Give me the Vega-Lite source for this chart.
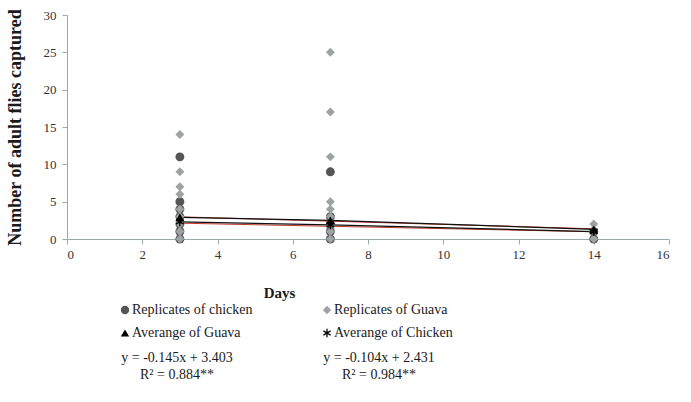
{
  "$schema": "https://vega.github.io/schema/vega-lite/v6.json",
  "padding": {"left": 5, "top": 8, "right": 5, "bottom": 5},
  "background": "white",
  "config": {
    "view": {"stroke": null},
    "font": "Liberation Serif",
    "axis": {"labelFont": "Liberation Serif", "labelFontSize": 13, "labelColor": "#333", "domainColor": "#9aa", "tickColor": "#9aa", "grid": false, "titleFont": "Liberation Serif", "titleFontWeight": "bold", "titleColor": "#1a1a1a", "labelOverlap": false}
  },
  "datasets": {
    "points": [
      {"day": 3, "count": 14, "series": "Replicates of Guava"},
      {"day": 3, "count": 9, "series": "Replicates of Guava"},
      {"day": 3, "count": 7, "series": "Replicates of Guava"},
      {"day": 3, "count": 6, "series": "Replicates of Guava"},
      {"day": 3, "count": 4, "series": "Replicates of Guava"},
      {"day": 3, "count": 3, "series": "Replicates of Guava"},
      {"day": 3, "count": 2, "series": "Replicates of Guava"},
      {"day": 3, "count": 1, "series": "Replicates of Guava"},
      {"day": 3, "count": 0, "series": "Replicates of Guava"},
      {"day": 3, "count": 11, "series": "Replicates of chicken"},
      {"day": 3, "count": 5, "series": "Replicates of chicken"},
      {"day": 3, "count": 4, "series": "Replicates of chicken"},
      {"day": 3, "count": 3, "series": "Replicates of chicken"},
      {"day": 3, "count": 2, "series": "Replicates of chicken"},
      {"day": 3, "count": 1, "series": "Replicates of chicken"},
      {"day": 3, "count": 0, "series": "Replicates of chicken"},
      {"day": 7, "count": 25, "series": "Replicates of Guava"},
      {"day": 7, "count": 17, "series": "Replicates of Guava"},
      {"day": 7, "count": 11, "series": "Replicates of Guava"},
      {"day": 7, "count": 5, "series": "Replicates of Guava"},
      {"day": 7, "count": 4, "series": "Replicates of Guava"},
      {"day": 7, "count": 3, "series": "Replicates of Guava"},
      {"day": 7, "count": 1, "series": "Replicates of Guava"},
      {"day": 7, "count": 0, "series": "Replicates of Guava"},
      {"day": 7, "count": 9, "series": "Replicates of chicken"},
      {"day": 7, "count": 3, "series": "Replicates of chicken"},
      {"day": 7, "count": 2, "series": "Replicates of chicken"},
      {"day": 7, "count": 1, "series": "Replicates of chicken"},
      {"day": 7, "count": 0, "series": "Replicates of chicken"},
      {"day": 14, "count": 2, "series": "Replicates of Guava"},
      {"day": 14, "count": 0, "series": "Replicates of Guava"},
      {"day": 14, "count": 1, "series": "Replicates of chicken"},
      {"day": 14, "count": 0, "series": "Replicates of chicken"},
      {"day": 3, "count": 2.9, "series": "Averange of Guava"},
      {"day": 7, "count": 2.5, "series": "Averange of Guava"},
      {"day": 14, "count": 1.3, "series": "Averange of Guava"},
      {"day": 3, "count": 2.3, "series": "Averange of Chicken"},
      {"day": 7, "count": 1.9, "series": "Averange of Chicken"},
      {"day": 14, "count": 1.0, "series": "Averange of Chicken"}
    ],
    "trends": [
      {"day": 3, "count": 2.97, "trend": "Guava"},
      {"day": 14, "count": 1.37, "trend": "Guava"},
      {"day": 3, "count": 2.12, "trend": "Chicken"},
      {"day": 14, "count": 0.97, "trend": "Chicken"}
    ],
    "legendItems": [
      {"series": "Replicates of chicken", "col": "L", "row": 1},
      {"series": "Replicates of Guava", "col": "R", "row": 1},
      {"series": "Averange of Guava", "col": "L", "row": 2},
      {"series": "Averange of Chicken", "col": "R", "row": 2}
    ],
    "equations": [
      {"col": "left", "line": 1, "text": "y = -0.145x + 3.403"},
      {"col": "left", "line": 2, "text": "R² = 0.884**"},
      {"col": "right", "line": 1, "text": "y = -0.104x + 2.431"},
      {"col": "right", "line": 2, "text": "R² = 0.984**"}
    ]
  },
  "vconcat": [
    {
      "width": 602,
      "height": 224,
      "encoding": {
        "x": {"field": "day", "type": "quantitative", "title": "Days",
          "scale": {"domain": [0, 16], "nice": false},
          "axis": {"values": [0, 2, 4, 6, 8, 10, 12, 14, 16], "tickSize": 5, "labelPadding": 4, "titleFontSize": 15, "titleX": 212, "titleY": 46}},
        "y": {"field": "count", "type": "quantitative", "title": "Number of adult flies captured",
          "scale": {"domain": [0, 30], "nice": false},
          "axis": {"values": [0, 5, 10, 15, 20, 25, 30], "tickSize": 5, "labelPadding": 6, "titleFontSize": 18, "titlePadding": 19}}
      },
      "layer": [
        {
          "data": {"name": "trends"},
          "mark": {"type": "line", "color": "#c0392b", "strokeWidth": 1},
          "encoding": {"detail": {"field": "trend"}}
        },
        {
          "data": {"name": "points"},
          "transform": [{"filter": "indexof(datum.series, 'Averange') === 0"}],
          "mark": {"type": "line", "color": "#111", "strokeWidth": 1.3},
          "encoding": {"detail": {"field": "series"}}
        },
        {
          "data": {"name": "points"},
          "mark": {"type": "point", "filled": true, "size": 80, "opacity": 1},
          "encoding": {
            "shape": {"field": "series", "type": "nominal",
              "scale": {"domain": ["Replicates of chicken", "Replicates of Guava", "Averange of Guava", "Averange of Chicken"],
                "range": ["circle", "diamond", "triangle-up", "M-0.15,-1L0.15,-1L0.15,1L-0.15,1ZM0.791,-0.63L0.941,-0.37L-0.791,0.63L-0.941,0.37ZM-0.941,-0.37L-0.791,-0.63L0.941,0.37L0.791,0.63Z"]},
              "legend": null},
            "color": {"field": "series", "type": "nominal",
              "scale": {"domain": ["Replicates of chicken", "Replicates of Guava", "Averange of Guava", "Averange of Chicken"],
                "range": ["#555555", "#9ea2a2", "#000000", "#000000"]},
              "legend": null},
            "order": {"field": "series", "sort": "descending"}
          }
        }
      ]
    },
    {
      "width": 602,
      "height": 82,
      "layer": [
        {
          "data": {"name": "legendItems"},
          "mark": {"type": "point", "filled": true, "size": 70, "opacity": 1},
          "encoding": {
            "x": {"field": "col", "type": "nominal", "scale": {"type": "point", "padding": 0, "domain": ["L", "R"], "range": [58, 260]}, "axis": null},
            "y": {"field": "row", "type": "ordinal", "scale": {"type": "point", "padding": 0, "domain": [1, 2], "range": [10, 33]}, "axis": null},
            "shape": {"field": "series", "type": "nominal",
              "scale": {"domain": ["Replicates of chicken", "Replicates of Guava", "Averange of Guava", "Averange of Chicken"],
                "range": ["circle", "diamond", "triangle-up", "M-0.15,-1L0.15,-1L0.15,1L-0.15,1ZM0.791,-0.63L0.941,-0.37L-0.791,0.63L-0.941,0.37ZM-0.941,-0.37L-0.791,-0.63L0.941,0.37L0.791,0.63Z"]},
              "legend": null},
            "color": {"field": "series", "type": "nominal",
              "scale": {"domain": ["Replicates of chicken", "Replicates of Guava", "Averange of Guava", "Averange of Chicken"],
                "range": ["#555555", "#9ea2a2", "#000000", "#000000"]},
              "legend": null}
          }
        },
        {
          "data": {"name": "legendItems"},
          "mark": {"type": "text", "font": "Liberation Serif", "fontSize": 14, "color": "#1a1a1a", "align": "left", "baseline": "middle", "dx": 7},
          "encoding": {
            "x": {"field": "col", "type": "nominal", "scale": {"type": "point", "padding": 0, "domain": ["L", "R"], "range": [58, 260]}, "axis": null},
            "y": {"field": "row", "type": "ordinal", "scale": {"type": "point", "padding": 0, "domain": [1, 2], "range": [10, 33]}, "axis": null},
            "text": {"field": "series"}
          }
        },
        {
          "data": {"name": "equations"},
          "mark": {"type": "text", "font": "Liberation Serif", "fontSize": 14, "color": "#1a1a1a", "baseline": "middle"},
          "encoding": {
            "x": {"field": "col", "type": "nominal", "scale": {"type": "point", "padding": 0, "domain": ["left", "right"], "range": [110, 312]}, "axis": null},
            "y": {"field": "line", "type": "ordinal", "scale": {"type": "point", "padding": 0, "domain": [1, 2], "range": [58, 75]}, "axis": null},
            "text": {"field": "text"}
          }
        }
      ],
      "resolve": {"scale": {"x": "independent", "y": "independent"}}
    }
  ],
  "spacing": 0
}
